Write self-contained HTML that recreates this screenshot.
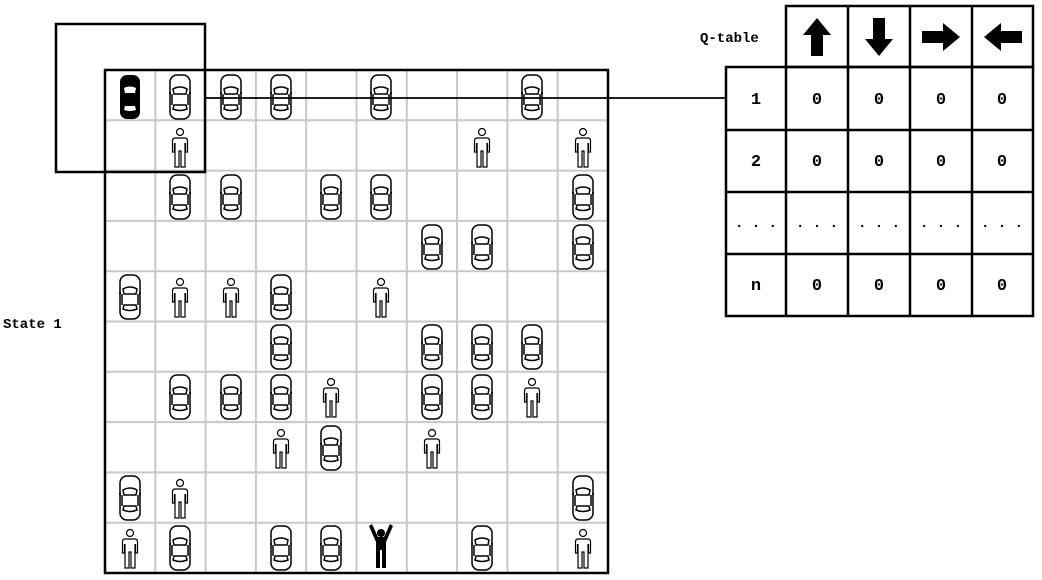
<!DOCTYPE html>
<html><head><meta charset="utf-8"><style>body{margin:0;background:#fff}svg{display:block}</style></head><body>
<svg width="1042" height="580" viewBox="0 0 1042 580" xmlns="http://www.w3.org/2000/svg">
<defs>
<g id="car" fill="none" stroke="#000" stroke-width="1.5">
<rect x="-10" y="-22" width="20" height="44" rx="7"/>
<path d="M-7,-8 Q0,-12 7,-8 L6,-3 L-6,-3 Z"/>
<path d="M-7,12 Q0,15 7,12 L6,8 L-6,8 Z"/>
<line x1="-8" y1="-3" x2="-8" y2="8"/><line x1="8" y1="-3" x2="8" y2="8"/>
<path d="M-11,-4 h2 M9,-4 h2"/>
</g>
<g id="bcar">
<rect x="-10" y="-22" width="20" height="44" rx="7" fill="#000"/>
<path d="M-6,-9 Q0,-12 6,-9 L5,-4 L-5,-4 Z" fill="#fff"/>
<path d="M-6,13 Q0,15 6,13 L5,9 L-5,9 Z" fill="#fff"/>
</g>
<g id="per" fill="none" stroke="#000" stroke-width="1.2">
<circle cx="0" cy="-15" r="3.5"/>
<path d="M-5,-9 H5 Q7.5,-9 7.5,-6 V5 H5.5 V-4 M5,-4 V20 H1 V4 H-1 V20 H-5 V-4 M-5.5,-4 V5 H-7.5 V-6 Q-7.5,-9 -5,-9"/>
</g>
</defs>
<g stroke="#c8c8c8" stroke-width="2">
<line x1="155.3" y1="70" x2="155.3" y2="573"/><line x1="205.6" y1="70" x2="205.6" y2="573"/><line x1="255.9" y1="70" x2="255.9" y2="573"/><line x1="306.2" y1="70" x2="306.2" y2="573"/><line x1="356.5" y1="70" x2="356.5" y2="573"/><line x1="406.8" y1="70" x2="406.8" y2="573"/><line x1="457.1" y1="70" x2="457.1" y2="573"/><line x1="507.4" y1="70" x2="507.4" y2="573"/><line x1="557.7" y1="70" x2="557.7" y2="573"/>
<line y1="120.3" x1="105" y2="120.3" x2="608"/><line y1="170.6" x1="105" y2="170.6" x2="608"/><line y1="220.9" x1="105" y2="220.9" x2="608"/><line y1="271.2" x1="105" y2="271.2" x2="608"/><line y1="321.5" x1="105" y2="321.5" x2="608"/><line y1="371.8" x1="105" y2="371.8" x2="608"/><line y1="422.1" x1="105" y2="422.1" x2="608"/><line y1="472.4" x1="105" y2="472.4" x2="608"/><line y1="522.7" x1="105" y2="522.7" x2="608"/>
</g>
<rect x="105" y="70" width="503" height="503" fill="none" stroke="#000" stroke-width="2.5"/>
<rect x="56" y="24" width="149" height="148" fill="none" stroke="#000" stroke-width="2.5"/>
<line x1="205" y1="98" x2="726" y2="98" stroke="#000" stroke-width="1.8"/>
<use href="#bcar" x="130" y="97"/>
<use href="#car" x="180" y="97"/><use href="#car" x="231" y="97"/><use href="#car" x="281" y="97"/><use href="#car" x="381" y="97"/><use href="#car" x="532" y="97"/>
<use href="#per" x="180" y="147"/><use href="#per" x="482" y="147"/><use href="#per" x="583" y="147"/>
<use href="#car" x="180" y="197"/><use href="#car" x="231" y="197"/><use href="#car" x="331" y="197"/><use href="#car" x="381" y="197"/><use href="#car" x="583" y="197"/>
<use href="#car" x="432" y="247"/><use href="#car" x="482" y="247"/><use href="#car" x="583" y="247"/>
<use href="#car" x="130" y="297"/><use href="#per" x="180" y="297"/><use href="#per" x="231" y="297"/><use href="#car" x="281" y="297"/><use href="#per" x="381" y="297"/>
<use href="#car" x="281" y="347"/><use href="#car" x="432" y="347"/><use href="#car" x="482" y="347"/><use href="#car" x="532" y="347"/>
<use href="#car" x="180" y="397"/><use href="#car" x="231" y="397"/><use href="#car" x="281" y="397"/><use href="#per" x="331" y="397"/><use href="#car" x="432" y="397"/><use href="#car" x="482" y="397"/><use href="#per" x="532" y="397"/>
<use href="#per" x="281" y="448"/><use href="#car" x="331" y="448"/><use href="#per" x="432" y="448"/>
<use href="#car" x="130" y="498"/><use href="#per" x="180" y="498"/><use href="#car" x="583" y="498"/>
<use href="#per" x="130" y="548"/><use href="#car" x="180" y="548"/><use href="#car" x="281" y="548"/><use href="#car" x="331" y="548"/><use href="#car" x="482" y="548"/><use href="#per" x="583" y="548"/>
<g transform="translate(381,548)" fill="#000"><circle cx="0" cy="-15" r="4"/><path d="M-12,-22 L-9,-24 L-3,-11 h6 L9,-24 L12,-22 L5,-6 V20 H1 V2 H-1 V20 H-5 V-6 Z"/></g>
<text x="3" y="328" font-family="Liberation Mono, monospace" font-size="14" font-weight="bold">State 1</text>
<text x="700" y="42" font-family="Liberation Mono, monospace" font-size="14" font-weight="bold">Q-table</text>
<g fill="none" stroke="#000" stroke-width="2.5">
<rect x="786" y="6" width="247" height="61"/>
<rect x="726" y="67" width="307" height="249"/>
<line x1="848" y1="6" x2="848" y2="316"/><line x1="910" y1="6" x2="910" y2="316"/><line x1="972" y1="6" x2="972" y2="316"/><line x1="786" y1="67" x2="786" y2="316"/>
<line x1="726" y1="130" x2="1033" y2="130"/><line x1="726" y1="192" x2="1033" y2="192"/><line x1="726" y1="254" x2="1033" y2="254"/>
</g>
<g fill="#000">
<path d="M817,18 L831,35 H823 V56 H811 V35 H803 Z"/>
<path d="M879,56 L893,39 H885 V18 H873 V39 H865 Z"/>
<path d="M960,37 L943,23 V31 H922 V43 H943 V51 Z"/>
<path d="M984,37 L1001,23 V31 H1022 V43 H1001 V51 Z"/>
</g>
<g font-family="Liberation Mono, monospace" font-size="17" font-weight="bold" text-anchor="middle">
<text x="756" y="104">1</text><text x="817" y="104">0</text><text x="879" y="104">0</text><text x="941" y="104">0</text><text x="1002" y="104">0</text>
<text x="756" y="166">2</text><text x="817" y="166">0</text><text x="879" y="166">0</text><text x="941" y="166">0</text><text x="1002" y="166">0</text>
<text x="756" y="290">n</text><text x="817" y="290">0</text><text x="879" y="290">0</text><text x="941" y="290">0</text><text x="1002" y="290">0</text>
</g>
<g font-family="Liberation Mono, monospace" font-size="14" font-weight="bold" text-anchor="middle">
<text x="756" y="227">. . .</text><text x="817" y="227">. . .</text><text x="879" y="227">. . .</text><text x="941" y="227">. . .</text><text x="1002" y="227">. . .</text>
</g>
</svg>
</body></html>
